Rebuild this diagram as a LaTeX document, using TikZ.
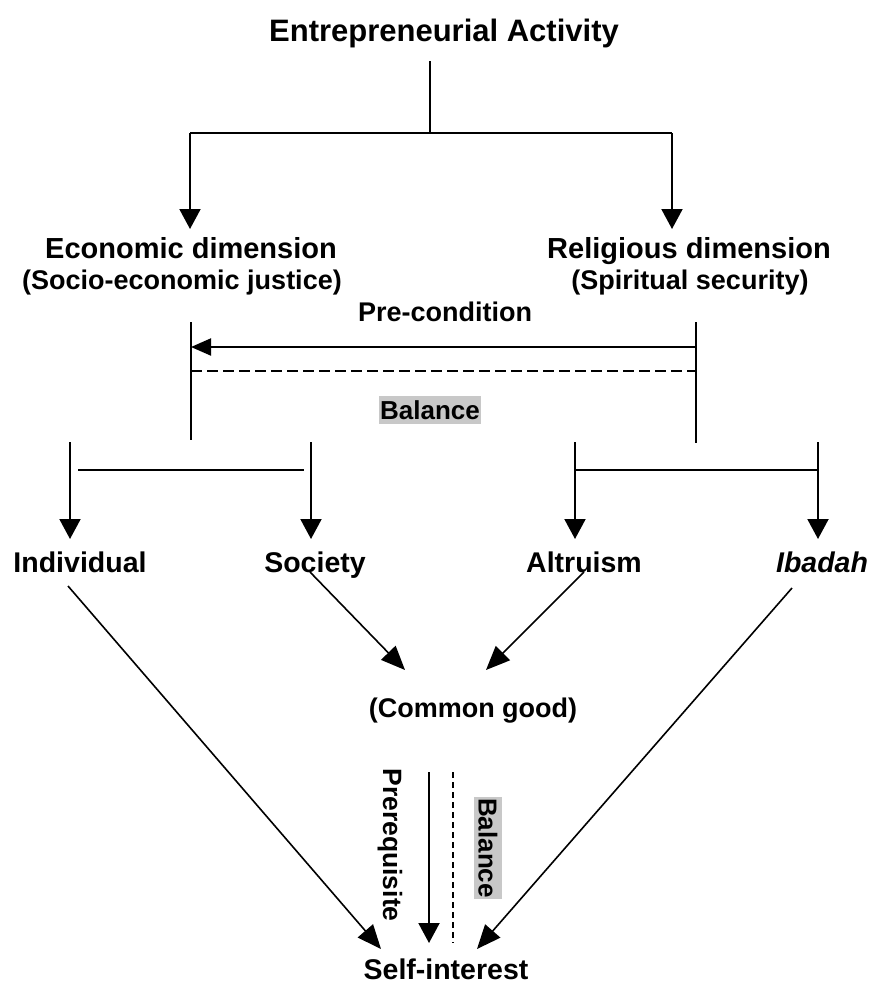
\documentclass[tikz,border=0pt]{standalone}
\usepackage{fontspec}
\setmainfont{Liberation Sans}
\usetikzlibrary{arrows.meta}
\definecolor{shade}{RGB}{200,200,200}
\begin{document}
\begin{tikzpicture}[x=1pt,y=-1pt,
  lbl/.style={font=\bfseries\fontsize{#1}{#1}\selectfont, inner sep=0pt, anchor=base},
  link/.style={line width=2pt},
  arr/.style={link, -{Triangle[length=20pt,width=21pt]}},
  leftarr/.style={link, -{Triangle[length=20pt,width=17pt]}},
  diag/.style={line width=1.6pt, -{Triangle[length=24pt,width=20pt]}},
  shadebox/.style={fill=shade, inner xsep=1.5pt, inner ysep=0pt, minimum height=28pt,
                   font=\bfseries\fontsize{26}{26}\selectfont},
]
\useasboundingbox (0,0) rectangle (875,986);

% ---- text nodes ----
\node[lbl=31] (ea) at (444,41) {Entrepreneurial Activity};
\node[lbl=29] (econ) at (191,258) {Economic dimension};
\node[lbl=27] (econsub) at (182,289) {(Socio-economic justice)};
\node[lbl=29] (relig) at (689,258) {Religious dimension};
\node[lbl=27] (religsub) at (690,289) {(Spiritual security)};
\node[lbl=27] (pre) at (445,321) {Pre-condition};
\node[shadebox] (bal) at (430,410) {Balance};

\node[lbl=28.5] (ind) at (80,572) {Individual};
\node[lbl=28.5] (soc) at (315,572) {Society};
\node[lbl=28.5] (alt) at (584,572) {Altruism};
\node[lbl=28.5, font=\bfseries\itshape\fontsize{28.5}{28.5}\selectfont] (iba) at (822,572) {Ibadah};

\node[lbl=27] (cg) at (473,717) {(Common good)};
\node[lbl=28.5] (self) at (446,979) {Self-interest};

\node[lbl=26.5, anchor=center, rotate=-90] (prq) at (390,845) {Prerequisite};
\node[shadebox, rotate=-90] (bal2) at (488,848) {Balance};

% ---- junction points ----
\coordinate (eaFoot) at (430,61);
\coordinate (split) at (430,133);
\coordinate (splitL) at (190,133);
\coordinate (splitR) at (672,133);
\coordinate (econTip) at (190,229);
\coordinate (religTip) at (672,229);

\coordinate (ecTop) at (191,322);
\coordinate (ecBot) at (191,440);
\coordinate (reTop) at (696,322);
\coordinate (reBot) at (696,443);
\coordinate (preR) at (696,347);
\coordinate (preL) at (191,347);
\coordinate (balL) at (191,371);
\coordinate (balR) at (696,371);

\coordinate (indTop) at (70,442);
\coordinate (indTip) at (70,539);
\coordinate (socTop) at (311,442);
\coordinate (socTip) at (311,539);
\coordinate (altTop) at (575,442);
\coordinate (altTip) at (575,539);
\coordinate (ibaTop) at (818,442);
\coordinate (ibaTip) at (818,539);
\coordinate (barLa) at (78,470);
\coordinate (barLb) at (304,470);
\coordinate (barRa) at (575,470);
\coordinate (barRb) at (818,470);

\coordinate (socFrom) at (310,572);
\coordinate (altFrom) at (584,572);
\coordinate (cgL) at (405,670);
\coordinate (cgR) at (486,670);

\coordinate (indFrom) at (68,586);
\coordinate (ibaFrom) at (792,588);
\coordinate (selfL) at (381,949);
\coordinate (selfR) at (477,949);

\coordinate (prqTop) at (429,772);
\coordinate (prqTip) at (429,943);
\coordinate (dashTop) at (453,772);
\coordinate (dashBot) at (453,943);

% ---- top split ----
\draw[link] (eaFoot) -- (split);
\draw[link] (splitL) -- (splitR);
\draw[arr] (splitL) -- (econTip);
\draw[arr] (splitR) -- (religTip);

% ---- pre-condition / balance band ----
\draw[link] (ecTop) -- (ecBot);
\draw[link] (reTop) -- (reBot);
\draw[leftarr] (preR) -- (preL);
\draw[link, dash pattern=on 11pt off 5pt] (balL) -- (balR);

% ---- second level brackets ----
\draw[arr] (indTop) -- (indTip);
\draw[arr] (socTop) -- (socTip);
\draw[link] (barLa) -- (barLb);
\draw[arr] (altTop) -- (altTip);
\draw[arr] (ibaTop) -- (ibaTip);
\draw[link] (barRa) -- (barRb);

% ---- towards the common good ----
\draw[diag] (socFrom) -- (cgL);
\draw[diag] (altFrom) -- (cgR);

% ---- towards self-interest ----
\draw[diag] (indFrom) -- (selfL);
\draw[diag] (ibaFrom) -- (selfR);
\draw[arr] (prqTop) -- (prqTip);
\draw[line width=1.5pt, dash pattern=on 6pt off 4pt] (dashTop) -- (dashBot);
\end{tikzpicture}
\end{document}
